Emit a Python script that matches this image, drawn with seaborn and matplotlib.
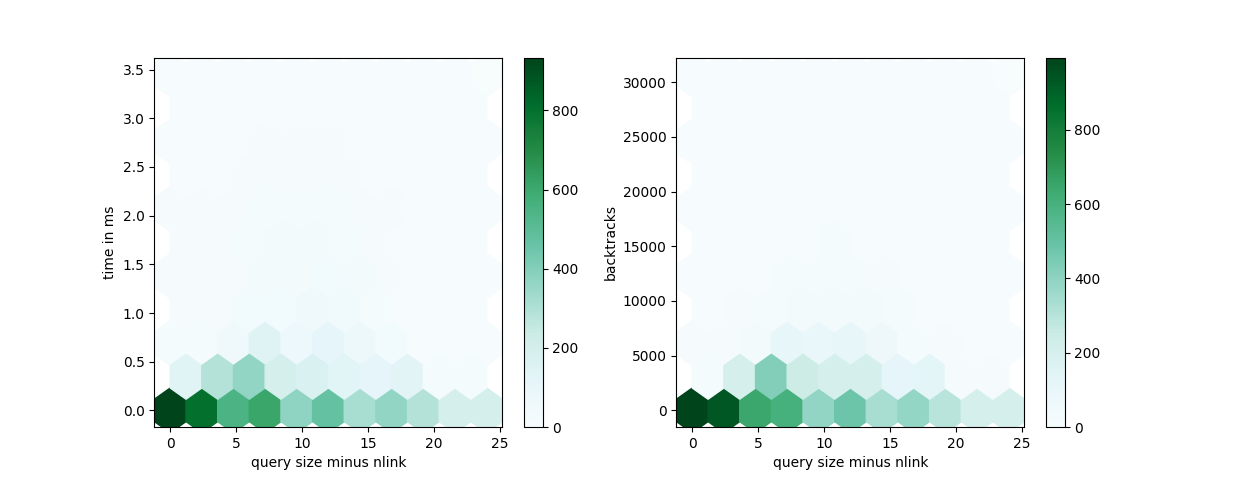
import numpy as np
import matplotlib
matplotlib.use("Agg")
import matplotlib.pyplot as plt
import seaborn as sns

# hex-bin centres along x (query size minus nlink), gridsize=10 over 0..24
size_main = [0, 2.4, 4.8, 7.2, 9.6, 12, 14.4, 16.8, 19.2, 21.6, 24]
size_offset = [1.2, 3.6, 6.0, 8.4, 10.8, 13.2, 15.6, 18.0, 20.4, 22.8]

# --- left panel: time in ms ---
time_max = 3.45
time_main_rows = [0, 0.69, 1.38, 2.07, 2.76, 3.45]
time_offset_rows = [0.345, 1.035, 1.725, 2.415, 3.105]
time_main_counts = [
    [933, 805, 550, 610, 373, 472, 315, 368, 288, 196, 200],
    [20, 20, 52, 145, 71, 110, 65, 39, 8, 8, 6],
    [12, 12, 14, 32, 32, 42, 30, 14, 10, 8, 8],
    [12, 12, 12, 22, 25, 22, 12, 12, 10, 10, 10],
    [10, 10, 10, 12, 12, 12, 10, 10, 10, 10, 10],
    [8, 8, 8, 8, 8, 8, 8, 8, 8, 6, 0],
]
time_offset_counts = [
    [140, 290, 365, 200, 168, 135, 113, 130, 19, 19],
    [14, 14, 40, 40, 52, 45, 25, 8, 6, 6],
    [12, 12, 25, 30, 30, 25, 12, 10, 8, 8],
    [10, 10, 12, 14, 14, 12, 10, 10, 10, 10],
    [10, 10, 10, 10, 10, 10, 10, 10, 10, 10],
]

# --- right panel: backtracks ---
bt_max = 30700
bt_main_rows = [0, 6140, 12280, 18420, 24560, 30700]
bt_offset_rows = [3070, 9210, 15350, 21490, 27630]
bt_main_counts = [
    [994, 935, 645, 605, 390, 480, 335, 385, 298, 208, 212],
    [12, 18, 38, 110, 90, 110, 65, 25, 12, 10, 8],
    [8, 8, 10, 25, 25, 22, 12, 10, 8, 8, 8],
    [8, 8, 8, 10, 10, 10, 8, 8, 8, 8, 8],
    [8, 8, 8, 8, 8, 8, 8, 8, 8, 8, 8],
    [6, 6, 6, 6, 6, 6, 6, 6, 6, 4, 0],
]
bt_offset_counts = [
    [20, 205, 430, 245, 205, 205, 124, 130, 12, 12],
    [10, 12, 25, 35, 35, 32, 22, 10, 8, 8],
    [8, 8, 8, 10, 20, 10, 8, 8, 8, 8],
    [8, 8, 8, 8, 8, 8, 8, 8, 8, 8],
    [8, 8, 8, 8, 8, 8, 8, 8, 8, 8],
]


def to_points(main_rows, main_counts, offset_rows, offset_counts):
    xs, ys, cs = [], [], []
    for yv, row in zip(main_rows, main_counts):
        for xv, c in zip(size_main, row):
            xs.append(xv); ys.append(yv); cs.append(c)
    for yv, row in zip(offset_rows, offset_counts):
        for xv, c in zip(size_offset, row):
            xs.append(xv); ys.append(yv); cs.append(c)
    return np.array(xs), np.array(ys), np.array(cs, dtype=float)


cmap = sns.color_palette("BuGn", as_cmap=True)

fig, axes = plt.subplots(1, 2, figsize=(12.35, 4.8))

panels = [
    (time_main_rows, time_main_counts, time_offset_rows, time_offset_counts,
     time_max, "time in ms"),
    (bt_main_rows, bt_main_counts, bt_offset_rows, bt_offset_counts,
     bt_max, "backtracks"),
]

for ax, (mr, mc, orow, oc, ymax, ylabel) in zip(axes, panels):
    x, y, c = to_points(mr, mc, orow, oc)
    hb = ax.hexbin(x, y, C=c, gridsize=10, extent=(0, 24, 0, ymax),
                   reduce_C_function=np.sum, mincnt=0, cmap=cmap, vmin=0)
    ax.set_xlabel("query size minus nlink")
    ax.set_ylabel(ylabel)
    fig.colorbar(hb, ax=ax)

plt.savefig("out.png", dpi=100)
plt.close()
